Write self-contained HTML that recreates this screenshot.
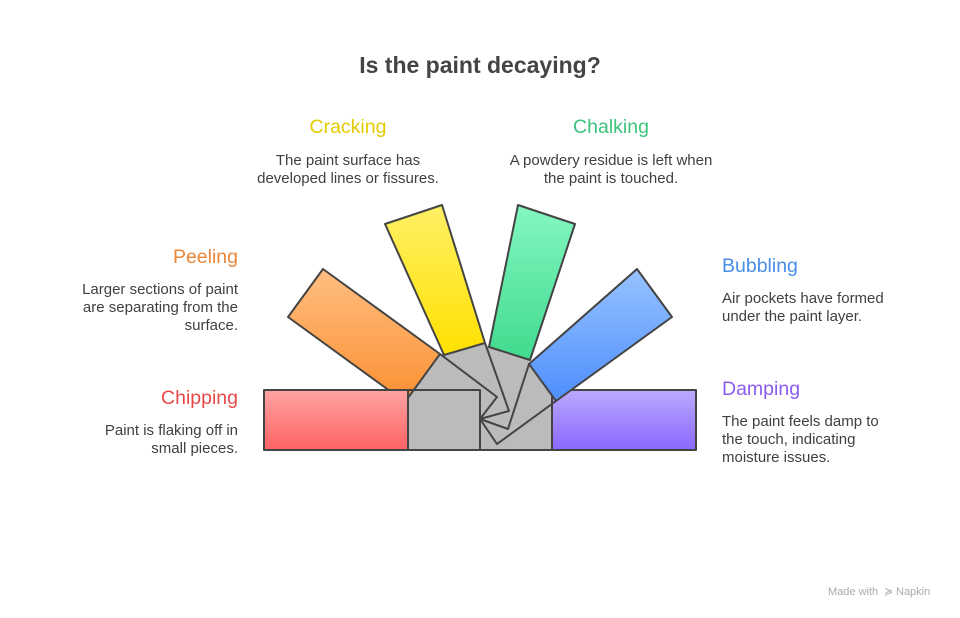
<!DOCTYPE html>
<html><head><meta charset="utf-8"><style>
html,body{margin:0;padding:0;background:#fff;}
svg{display:block;font-family:"Liberation Sans",Arial,sans-serif;}
</style></head><body>
<svg width="960" height="618" viewBox="0 0 960 618" xmlns="http://www.w3.org/2000/svg">
<defs>
<linearGradient id="gr" x1="0" y1="0" x2="0" y2="1"><stop offset="0" stop-color="#ffa3a3"/><stop offset="1" stop-color="#ff6262"/></linearGradient>
<linearGradient id="go" x1="0" y1="0" x2="0" y2="1"><stop offset="0" stop-color="#ffbe82"/><stop offset="1" stop-color="#fb9032"/></linearGradient>
<linearGradient id="gy" x1="0" y1="0" x2="0" y2="1"><stop offset="0" stop-color="#fff066"/><stop offset="1" stop-color="#ffe100"/></linearGradient>
<linearGradient id="gg" x1="0" y1="0" x2="0" y2="1"><stop offset="0" stop-color="#84f7c0"/><stop offset="1" stop-color="#40da8e"/></linearGradient>
<linearGradient id="gb" x1="0" y1="0" x2="0" y2="1"><stop offset="0" stop-color="#98c2ff"/><stop offset="1" stop-color="#4d8ffd"/></linearGradient>
<linearGradient id="gp" x1="0" y1="0" x2="0" y2="1"><stop offset="0" stop-color="#bca9ff"/><stop offset="1" stop-color="#8a68ff"/></linearGradient>
</defs>
<text x="480" y="73" text-anchor="middle" font-size="23" font-weight="bold" fill="#444">Is the paint decaying?</text>

<g stroke="#444" stroke-width="2" stroke-linejoin="round">
<polygon points="408,450 408,390 412,390 440,354 444,355 485,343 489,347 530,360 529,364 556,401 552,404 552,450" fill="#bbbbbb" stroke="none"/>
<rect x="408" y="390" width="72" height="60" fill="#bbbbbb"/>
<polyline points="480,419 480,450 552,450 552,402" fill="none"/>
<rect x="552" y="390" width="144" height="60" fill="url(#gp)"/>
<polygon points="637,269 672,317 556,401 529,364" fill="url(#gb)"/>
<polygon points="518,205 575,224 530,360 489,347" fill="url(#gg)"/>
<polygon points="385,224 442,205 485,343 444,355" fill="url(#gy)"/>
<polygon points="323,269 288,317 405,402 440,354" fill="url(#go)"/>
<rect x="264" y="390" width="144" height="60" fill="url(#gr)"/>
<line x1="408" y1="390" x2="480" y2="390"/>
<polyline points="440,354 497,397 480,419" fill="none"/>
<polyline points="485,343 509,411 480,419" fill="none"/>
<polyline points="529,364 508,429 480,419" fill="none"/>
<polyline points="556,401 497,444 480,419" fill="none"/>
</g>

<g font-size="19.5">
<text x="348" y="133" text-anchor="middle" fill="#e2cc00">Cracking</text>
<text x="611" y="133" text-anchor="middle" fill="#3cc47c">Chalking</text>
<text x="238" y="263" text-anchor="end" fill="#e8873a">Peeling</text>
<text x="238" y="404" text-anchor="end" fill="#e84a4a">Chipping</text>
<text x="722" y="272" fill="#4a8ee8">Bubbling</text>
<text x="722" y="395" fill="#8a5cf0">Damping</text>
</g>
<g font-size="15" fill="#404040">
<text x="348" y="165" text-anchor="middle">The paint surface has</text>
<text x="348" y="183" text-anchor="middle">developed lines or fissures.</text>
<text x="611" y="165" text-anchor="middle">A powdery residue is left when</text>
<text x="611" y="183" text-anchor="middle">the paint is touched.</text>
<text x="238" y="294" text-anchor="end">Larger sections of paint</text>
<text x="238" y="312" text-anchor="end">are separating from the</text>
<text x="238" y="330" text-anchor="end">surface.</text>
<text x="238" y="435" text-anchor="end">Paint is flaking off in</text>
<text x="238" y="453" text-anchor="end">small pieces.</text>
<text x="722" y="303">Air pockets have formed</text>
<text x="722" y="321">under the paint layer.</text>
<text x="722" y="426">The paint feels damp to</text>
<text x="722" y="444">the touch, indicating</text>
<text x="722" y="462">moisture issues.</text>
</g>
<text x="828" y="595" font-size="11" fill="#aaa">Made with</text>
<text x="884" y="595" font-size="11" fill="#aaa">≽</text>
<text x="896" y="595" font-size="11" fill="#aaa">Napkin</text>
</svg>
</body></html>
